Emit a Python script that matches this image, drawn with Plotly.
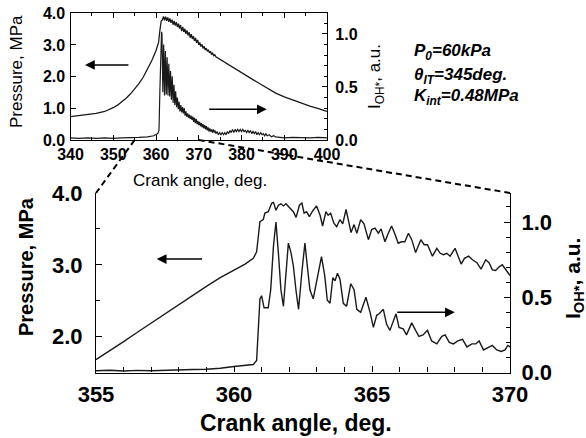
import plotly.graph_objects as go

# ---------------- data: top (overview) panel ----------------
top_p_x = [340, 342, 344, 346, 348, 349, 350, 351, 352, 353, 354, 355, 356, 357, 358, 359, 360, 360.6, 360.9, 361.2,
           361.50, 361.75, 362.00, 362.25, 362.50, 362.75, 363.00, 363.25, 363.50, 363.75, 364.00, 364.25, 364.50,
           364.75, 365.00, 365.25, 365.50, 365.75, 366.00, 366.25, 366.50, 366.75, 367.00, 367.25, 367.50, 367.75,
           368.00, 368.25, 368.50, 368.75, 369.00, 369.25, 369.50, 369.75, 370.00, 370.25, 370.50, 370.75, 371.00,
           371.25, 371.50, 371.75, 372.00, 372.25, 372.50, 372.75, 373.00, 373.25, 373.50, 373.75, 374.00,
           376, 378, 380, 382, 384, 386, 388, 390, 392, 394, 396, 398, 400]
top_p_y = [0.74, 0.77, 0.80, 0.84, 0.90, 0.95, 1.02, 1.10, 1.20, 1.32, 1.45, 1.60, 1.78, 1.98, 2.22, 2.50, 2.82, 3.08, 3.45, 3.75,
           3.80, 3.90, 3.78, 3.89, 3.76, 3.87, 3.73, 3.84, 3.70, 3.80, 3.64, 3.76, 3.61,
           3.72, 3.57, 3.67, 3.52, 3.63, 3.44, 3.57, 3.41, 3.51, 3.35, 3.46, 3.30, 3.40,
           3.23, 3.34, 3.19, 3.28, 3.13, 3.22, 3.07, 3.16, 3.00, 3.08, 2.95, 3.02, 2.89,
           2.96, 2.84, 2.90, 2.80, 2.85, 2.75, 2.80, 2.70, 2.74, 2.66, 2.69, 2.63,
           2.46, 2.28, 2.12, 1.96, 1.80, 1.63, 1.48, 1.36, 1.26, 1.16, 1.07, 0.99, 0.90]

top_i_x = [340, 342, 344, 346, 348, 350, 352, 354, 356, 358, 359.5, 360.4, 360.7, 360.9, 361.1, 361.3,
           361.4, 361.6, 361.8, 362.0, 362.2, 362.4, 362.6, 362.8, 363.0, 363.2, 363.4, 363.6, 363.8, 364.0,
           364.2, 364.4, 364.6, 364.8, 365.0, 365.2, 365.4, 365.6, 365.8, 366.0, 366.2, 366.4, 366.6, 366.8,
           367.0, 367.2, 367.4, 367.6, 367.8, 368.0, 368.2, 368.4, 368.6, 368.8, 369.0, 369.2, 369.4, 369.6,
           369.8, 370.0, 370.2, 370.4, 370.6, 370.8, 371.0, 371.2, 371.4, 371.6, 371.8, 372.0, 372.2, 372.4,
           372.6, 372.8, 373.0, 373.2, 373.4, 373.6, 373.8, 374.0, 374.3, 374.6, 374.9, 375.2, 375.5, 375.8,
           376.1, 376.4, 376.7, 377.0, 377.3, 377.6, 377.9, 378.2, 378.5, 378.8, 379.1, 379.4, 379.7, 380.0,
           380.3, 380.6, 380.9, 381.2, 381.5, 381.8, 382.1, 382.4, 382.7, 383.0, 383.3, 383.6, 383.9, 384.2,
           384.5, 384.8, 385.1, 385.4, 385.7, 386.0, 386.5, 387.0, 387.5, 388.0, 389, 390, 392, 394, 396, 398, 400]
top_i_y = [0.020, 0.015, 0.020, 0.015, 0.020, 0.015, 0.020, 0.020, 0.025, 0.030, 0.040, 0.060, 0.090, 0.45, 0.85, 1.02,
           1.00, 0.45, 0.90, 0.42, 0.84, 0.43, 0.78, 0.42, 0.72, 0.41, 0.65, 0.38, 0.60, 0.35,
           0.52, 0.33, 0.46, 0.31, 0.40, 0.29, 0.36, 0.27, 0.33, 0.26, 0.31, 0.25, 0.30, 0.23,
           0.27, 0.22, 0.25, 0.21, 0.24, 0.20, 0.23, 0.19, 0.22, 0.17, 0.21, 0.16, 0.20, 0.15,
           0.18, 0.14, 0.17, 0.13, 0.16, 0.12, 0.15, 0.11, 0.14, 0.10, 0.13, 0.09, 0.12, 0.08,
           0.11, 0.08, 0.10, 0.07, 0.10, 0.07, 0.09, 0.06, 0.08, 0.05, 0.07, 0.05, 0.07, 0.05,
           0.07, 0.05, 0.08, 0.06, 0.09, 0.07, 0.10, 0.07, 0.10, 0.08, 0.10, 0.08, 0.10, 0.08,
           0.10, 0.08, 0.09, 0.07, 0.09, 0.07, 0.09, 0.06, 0.08, 0.06, 0.08, 0.05, 0.07, 0.05,
           0.07, 0.05, 0.06, 0.04, 0.06, 0.04, 0.05, 0.03, 0.04, 0.03, 0.025, 0.02, 0.025, 0.02, 0.02, 0.025, 0.02]

# ---------------- data: bottom (zoomed) panel ----------------
bot_p_x = [355.0, 355.5, 356.0, 356.5, 357.0, 357.5, 358.0, 358.5, 359.0, 359.5, 360.0, 360.4, 360.7, 360.82,
           360.94, 361.06, 361.12, 361.24, 361.37, 361.43, 361.52, 361.61, 361.70, 361.79, 361.88, 362.03, 362.15,
           362.25, 362.37, 362.46, 362.54, 362.63, 362.73, 362.85, 362.99, 363.12, 363.21, 363.33, 363.41, 363.50,
           363.62, 363.72, 363.84, 363.94, 364.06, 364.14, 364.24, 364.35, 364.45, 364.59, 364.71, 364.87, 364.99,
           365.11, 365.23, 365.33, 365.47, 365.59, 365.71, 365.83, 365.95, 366.07, 366.19, 366.32, 366.44, 366.58,
           366.77, 366.89, 367.01, 367.19, 367.35, 367.47, 367.59, 367.71, 367.83, 368.01, 368.11, 368.23, 368.35,
           368.50, 368.64, 368.80, 368.95, 369.12, 369.24, 369.36, 369.48, 369.60, 369.72, 369.84, 370.0]
bot_p_y = [1.68, 1.80, 1.93, 2.06, 2.19, 2.32, 2.45, 2.57, 2.70, 2.82, 2.93, 3.01, 3.09, 3.18,
           3.60, 3.63, 3.72, 3.74, 3.86, 3.87, 3.76, 3.83, 3.85, 3.82, 3.85, 3.79, 3.74,
           3.66, 3.83, 3.86, 3.72, 3.74, 3.67, 3.75, 3.82, 3.69, 3.54, 3.74, 3.69, 3.72,
           3.58, 3.53, 3.63, 3.57, 3.77, 3.63, 3.45, 3.56, 3.44, 3.63, 3.57, 3.35, 3.49,
           3.51, 3.44, 3.50, 3.32, 3.44, 3.54, 3.43, 3.30, 3.32, 3.32, 3.44, 3.35, 3.17,
           3.35, 3.28, 3.28, 3.12, 3.23, 3.16, 3.14, 3.16, 3.12, 3.23, 3.12, 3.01, 3.09,
           3.12, 3.07, 3.03, 2.94, 3.07, 3.03, 2.93, 2.92, 2.97, 3.00, 2.93, 2.85]

bot_i_x = [355.0, 355.5, 356.0, 356.5, 357.0, 357.5, 358.0, 358.5, 359.0, 359.5, 360.0, 360.4, 360.7, 360.82,
           360.88, 360.94, 361.00, 361.09, 361.24, 361.33, 361.43, 361.52, 361.61, 361.70, 361.79, 361.88, 361.97,
           362.06, 362.15, 362.25, 362.34, 362.46, 362.57, 362.66, 362.75, 362.87, 363.02, 363.17, 363.29, 363.38,
           363.48, 363.58, 363.66, 363.75, 363.84, 363.96, 364.08, 364.23, 364.35, 364.45, 364.59, 364.78, 364.93,
           365.05, 365.17, 365.26, 365.41, 365.53, 365.65, 365.77, 365.87, 365.98, 366.13, 366.25, 366.44, 366.58,
           366.70, 366.85, 367.01, 367.16, 367.35, 367.53, 367.65, 367.80, 367.95, 368.11, 368.28, 368.44, 368.62,
           368.76, 368.88, 369.04, 369.22, 369.36, 369.52, 369.68, 369.82, 369.92, 370.0]
bot_i_y = [0.012, 0.015, 0.010, 0.014, 0.012, 0.016, 0.015, 0.020, 0.022, 0.028, 0.040, 0.047, 0.053, 0.08,
           0.32, 0.49, 0.51, 0.43, 0.43, 0.55, 0.84, 1.00, 0.79, 0.55, 0.44, 0.64, 0.86,
           0.80, 0.71, 0.54, 0.42, 0.67, 0.86, 0.70, 0.55, 0.49, 0.64, 0.77, 0.64, 0.48,
           0.46, 0.63, 0.61, 0.66, 0.62, 0.46, 0.44, 0.59, 0.55, 0.42, 0.40, 0.50, 0.40,
           0.30, 0.38, 0.39, 0.42, 0.32, 0.28, 0.34, 0.39, 0.30, 0.29, 0.25, 0.33, 0.28,
           0.24, 0.25, 0.28, 0.21, 0.19, 0.24, 0.25, 0.20, 0.19, 0.21, 0.22, 0.17, 0.19,
           0.19, 0.21, 0.15, 0.17, 0.18, 0.15, 0.14, 0.15, 0.18, 0.17]

# ---------------- layout geometry ----------------
W, H = 586, 438
top_xdom = [70.5 / W, 327 / W]
top_ydom = [1 - 140 / H, 1 - 13.3 / H]
bot_xdom = [96 / W, 510 / W]
bot_ydom = [1 - 372.5 / H, 1 - 193 / H]
top_xr = [340, 400]
top_yr = [0, 4.0]
top_y2r = [0, 1.195]
bot_xr = [355, 370]
bot_yr = [1.50, 4.0]
bot_y2r = [0, 1.193]

FONT = "Liberation Sans, Arial, sans-serif"
LC = "#1a1a1a"

fig = go.Figure()
fig.add_trace(go.Scatter(x=top_p_x, y=top_p_y, mode="lines", line=dict(color=LC, width=1.3),
                         xaxis="x", yaxis="y", showlegend=False, hoverinfo="skip"))
fig.add_trace(go.Scatter(x=top_i_x, y=top_i_y, mode="lines", line=dict(color=LC, width=1.2),
                         xaxis="x", yaxis="y2", showlegend=False, hoverinfo="skip"))
fig.add_trace(go.Scatter(x=bot_p_x, y=bot_p_y, mode="lines", line=dict(color=LC, width=1.4),
                         xaxis="x2", yaxis="y3", showlegend=False, hoverinfo="skip"))
fig.add_trace(go.Scatter(x=bot_i_x, y=bot_i_y, mode="lines", line=dict(color=LC, width=1.4),
                         xaxis="x2", yaxis="y4", showlegend=False, hoverinfo="skip"))

tick_top = dict(family=FONT, size=16, color="black", weight="bold")
tick_bot = dict(family=FONT, size=22, color="black", weight="bold")

axcommon = dict(showgrid=False, zeroline=False, showline=True, linecolor="black", linewidth=1.2,
                ticks="inside", tickcolor="black", tickwidth=1.2, automargin=False)

fig.update_layout(
    width=W, height=H, margin=dict(l=0, r=0, t=0, b=0, pad=0, autoexpand=False),
    paper_bgcolor="white", plot_bgcolor="rgba(0,0,0,0)",
    xaxis=dict(**axcommon, domain=top_xdom, range=top_xr, anchor="y", dtick=10, tick0=340, ticklen=5,
               mirror="ticks", minor=dict(dtick=5, ticklen=3, ticks="inside", tickcolor="black"),
               tickfont=tick_top, ticklabelstandoff=0),
    yaxis=dict(**axcommon, domain=top_ydom, range=top_yr, anchor="x", dtick=1, tickformat=".1f", ticklen=5,
               tickfont=tick_top, ticklabelstandoff=1),
    yaxis2=dict(**axcommon, domain=top_ydom, range=top_y2r, anchor="x", overlaying="y", side="right",
                dtick=0.5, tickformat=".1f", ticklen=5,
                minor=dict(dtick=0.1, ticklen=3, ticks="inside", tickcolor="black"),
                tickfont=tick_top, ticklabelstandoff=4),
    xaxis2=dict(**axcommon, domain=bot_xdom, range=bot_xr, anchor="y3", dtick=5, tick0=355, ticklen=6,
                minor=dict(dtick=1, ticklen=5, ticks="inside", tickcolor="black"),
                tickfont=tick_bot, ticklabelstandoff=2),
    yaxis3=dict(**axcommon, domain=bot_ydom, range=bot_yr, anchor="x2", dtick=1, tick0=0, tickformat=".1f",
                ticklen=6, minor=dict(dtick=0.5, ticklen=4, ticks="inside", tickcolor="black"),
                tickfont=tick_bot, ticklabelstandoff=8),
    yaxis4=dict(**axcommon, domain=bot_ydom, range=bot_y2r, anchor="x2", overlaying="y3", side="right",
                dtick=0.5, tickformat=".1f", ticklen=6,
                minor=dict(dtick=0.1, ticklen=4, ticks="inside", tickcolor="black"),
                tickfont=tick_bot, ticklabelstandoff=6),
)


def px(val, dom, rng):
    return dom[0] + (val - rng[0]) / (rng[1] - rng[0]) * (dom[1] - dom[0])


# dashed connectors from the overview to the zoomed panel
for xv, xend in [(bot_xr[0], bot_xdom[0]), (bot_xr[1], bot_xdom[1])]:
    fig.add_shape(type="line", xref="paper", yref="paper",
                  x0=px(xv, top_xdom, top_xr), y0=top_ydom[0], x1=xend, y1=bot_ydom[1],
                  line=dict(color="black", width=2, dash="6px,4px"))

ann = []
# axis titles
ann.append(dict(text="Pressure, MPa", x=16 / W, y=1 - 72 / H, textangle=-90,
                font=dict(family=FONT, size=17, color="black")))
ann.append(dict(text="Crank angle, deg.", x=200 / W, y=1 - 180 / H,
                font=dict(family=FONT, size=17, color="black")))
ann.append(dict(text="I<sub>OH*</sub>, a.u.", x=376 / W, y=1 - 77 / H, textangle=-90,
                font=dict(family=FONT, size=17, color="black")))
ann.append(dict(text="<b>Pressure, MPa</b>", x=26 / W, y=1 - 267 / H, textangle=-90,
                font=dict(family=FONT, size=20, color="black")))
ann.append(dict(text="<b>Crank angle, deg.</b>", x=296 / W, y=1 - 423 / H,
                font=dict(family=FONT, size=23, color="black")))
ann.append(dict(text="<b>I<sub>OH*</sub>, a.u.</b>", x=574 / W, y=1 - 279 / H, textangle=-90,
                font=dict(family=FONT, size=21, color="black")))
# condition text
for txt, yy in [("<b><i>P<sub>0</sub>=60kPa</i></b>", 52),
                ("<b><i>θ<sub>IT</sub>=345deg.</i></b>", 76),
                ("<b><i>K<sub>int</sub>=0.48MPa</i></b>", 97)]:
    ann.append(dict(text=txt, x=412 / W, y=1 - yy / H, xanchor="left",
                    font=dict(family=FONT, size=17, color="black")))
for a in ann:
    a.setdefault("xanchor", "center")
    a.update(xref="paper", yref="paper", yanchor="middle", showarrow=False)
    fig.add_annotation(**a)

# direction arrows
arrows = [("x", "y", 343.4, 2.37, 353.9, 2.37),
          ("x", "y2", 385.9, 0.29, 372.1, 0.29),
          ("x2", "y3", 357.2, 3.08, 358.9, 3.08),
          ("x2", "y4", 368.0, 0.40, 365.86, 0.40)]
for xr, yr, hx, hy, tx, ty in arrows:
    fig.add_annotation(x=hx, y=hy, ax=tx, ay=ty, xref=xr, yref=yr, axref=xr, ayref=yr,
                       text="", showarrow=True, arrowhead=2, arrowsize=1.3, arrowwidth=1.5,
                       arrowcolor="black")

fig.write_html("out.html", config={"displayModeBar": False},
               post_script="document.body.style.margin='0';document.body.style.overflow='hidden';")
